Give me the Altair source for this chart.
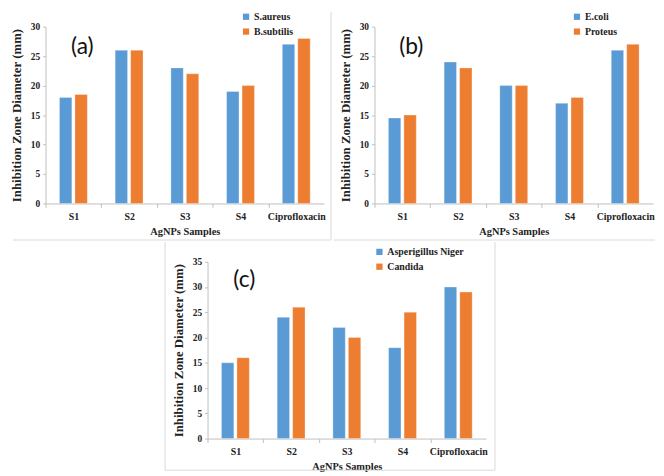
import altair as alt
import pandas as pd

samples = ["S1", "S2", "S3", "S4", "Ciprofloxacin"]

a_series = ["S.aureus", "B.subtilis"]
a_saureus = [18, 26, 23, 19, 27]
a_bsubtilis = [18.5, 26, 22, 20, 28]

b_series = ["E.coli", "Proteus"]
b_ecoli = [14.5, 24, 20, 17, 26]
b_proteus = [15, 23, 20, 18, 27]

c_series = ["Asperigillus Niger", "Candida"]
c_aniger = [15, 24, 22, 18, 30]
c_candida = [16, 26, 20, 25, 29]

colors = ["#5B9BD5", "#ED7D31"]
SERIF = "Liberation Serif"
FRAME = "#D9D9D9"
W, H = 282, 179
ONE = pd.DataFrame({"k": [0]})


def frame_lines(segments, color=FRAME, opacity=1):
    layers = []
    for x1, y1, x2, y2 in segments:
        layers.append(
            alt.Chart(ONE).mark_rule(color=color, strokeWidth=1, opacity=opacity).encode(
                x=alt.value(x1), y=alt.value(y1), x2=alt.value(x2), y2=alt.value(y2)
            )
        )
    return layers


def panel(series, v1, v2, tag, ymax, legend_x, tag_y, segments):
    rows = []
    for s, v in zip(samples, v1):
        rows.append({"sample": s, "series": series[0], "value": v})
    for s, v in zip(samples, v2):
        rows.append({"sample": s, "series": series[1], "value": v})
    df = pd.DataFrame(rows)
    step = W / 5.0
    xscale = alt.Scale(domain=samples, paddingInner=0.5, paddingOuter=0.25)
    xaxis = alt.Axis(title="AgNPs Samples", labelAngle=0, tickOffset=-step / 2, labelOffset=step / 2,
                     tickSize=4, labelPadding=4, titlePadding=5, labelFontSize=10, titleFontSize=10.5,
                     labelFont=SERIF, titleFont=SERIF, labelFontWeight="bold", titleFontWeight="bold")
    yscale = alt.Scale(domain=[0, ymax], nice=False)
    yaxis = alt.Axis(title="Inhibition Zone Diameter (mm)", values=list(range(0, ymax + 1, 5)),
                     labelOverlap=False, grid=False, tickSize=3, labelPadding=3, titlePadding=7,
                     labelFontSize=9.5, titleFontSize=13,
                     labelFont=SERIF, titleFont=SERIF, labelFontWeight="bold", titleFontWeight="bold")
    bars = alt.Chart(df).mark_bar(stroke="#ffffff", strokeWidth=0.6, strokeOpacity=0.5).encode(
        x=alt.X("sample:N", sort=samples, scale=xscale, axis=xaxis),
        xOffset=alt.XOffset("series:N", sort=series,
                            scale=alt.Scale(domain=series, paddingInner=0.2)),
        y=alt.Y("value:Q", scale=yscale, axis=yaxis),
        color=alt.Color("series:N", sort=series,
                        scale=alt.Scale(domain=series, range=colors),
                        legend=alt.Legend(title=None, orient="none", legendX=legend_x, legendY=-15,
                                          symbolType="square", symbolSize=40, symbolStrokeWidth=0,
                                          labelFont=SERIF, labelFontWeight="bold", labelFontSize=10,
                                          labelColor="#222222", rowPadding=5, labelOffset=3)),
    )
    text = alt.Chart(pd.DataFrame({"t": [tag]})).mark_text(
        font="Lato", fontSize=23, color="#111111", dx=9, align="center", baseline="middle"
    ).encode(
        x=alt.XDatum("S1", type="nominal", scale=xscale, axis=xaxis),
        y=alt.YDatum(tag_y, type="quantitative", scale=yscale, axis=yaxis),
        text="t:N",
    )
    return alt.layer(bars, text, *frame_lines(segments)).properties(width=W, height=H)


# decorative panel frames (pixel offsets relative to each plot area)
seg_a = [(289, -15, 289, 216), (-33, 216, 289, 216)]
seg_b = [(-41, 216, 284, 216)]
seg_c = [(-43, -20, -43, 211), (291, -20, 291, 211), (-43, 211, 291, 211)]

pa = panel(a_series, a_saureus, a_bsubtilis, "(a)", 30, 198, 26.6, seg_a)
pb = panel(b_series, b_ecoli, b_proteus, "(b)", 30, 200, 26.6, seg_b)
pc = panel(c_series, c_aniger, c_candida, "(c)", 35, 169, 31.3, seg_c)

# invisible horizontal spacer that places panel (c) under the middle of the top row
SP = 119
spacer = alt.layer(*frame_lines([(0, 0, SP, 0)], color="#ffffff", opacity=0)).properties(width=SP, height=1)

top = alt.hconcat(pa, pb, spacing=1).resolve_scale(
    color="independent", xOffset="independent", x="independent", y="independent")
bottom = alt.hconcat(spacer, pc, spacing=1).resolve_scale(
    color="independent", xOffset="independent", x="independent", y="independent")
chart = alt.vconcat(top, bottom, spacing=0).resolve_scale(
    color="independent", xOffset="independent", x="independent", y="independent"
).properties(
    padding={"left": 2, "top": 0, "right": 0, "bottom": 0}, background="white"
).configure_view(stroke=None).configure_axis(
    labelFont=SERIF, titleFont=SERIF, labelFontWeight="bold", titleFontWeight="bold",
    labelColor="#222222", titleColor="#222222", domainColor="#BFBFBF", tickColor="#BFBFBF"
)

chart.save("out.html", embed_options={"renderer": "svg", "actions": False})
